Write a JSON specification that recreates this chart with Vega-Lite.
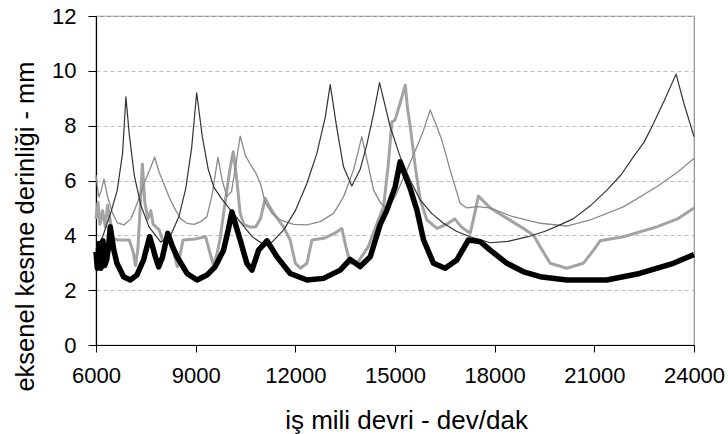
{
  "$schema": "https://vega.github.io/schema/vega-lite/v6.json",
  "width": 598,
  "height": 329,
  "autosize": {"type": "none"},
  "padding": {"left": 96, "top": 16, "right": 34, "bottom": 89},
  "background": "white",
  "config": {
    "font": "Liberation Sans",
    "view": {"stroke": "#8c8c8c", "strokeWidth": 1.2}
  },
  "datasets": {
    "A": [
      {"x": 6000, "y": 3.5}, {"x": 6200, "y": 3.95}, {"x": 6440, "y": 4.8}, {"x": 6640, "y": 5.65}, {"x": 6800, "y": 7.0}, {"x": 6900, "y": 9.05},
      {"x": 7000, "y": 7.7}, {"x": 7150, "y": 6.2}, {"x": 7350, "y": 5.1}, {"x": 7600, "y": 4.3}, {"x": 7950, "y": 3.75}, {"x": 8250, "y": 4.0},
      {"x": 8500, "y": 4.7}, {"x": 8700, "y": 5.7}, {"x": 8880, "y": 7.2}, {"x": 9030, "y": 9.2}, {"x": 9200, "y": 7.6}, {"x": 9380, "y": 6.4},
      {"x": 9550, "y": 5.75}, {"x": 9800, "y": 5.3}, {"x": 10100, "y": 4.85}, {"x": 10400, "y": 4.4}, {"x": 10700, "y": 3.95}, {"x": 11000, "y": 3.7},
      {"x": 11300, "y": 3.75}, {"x": 11650, "y": 4.2}, {"x": 12000, "y": 4.9}, {"x": 12350, "y": 5.9}, {"x": 12650, "y": 7.0}, {"x": 12900, "y": 8.3},
      {"x": 13050, "y": 9.5}, {"x": 13250, "y": 7.9}, {"x": 13450, "y": 6.5}, {"x": 13700, "y": 5.8}, {"x": 13950, "y": 6.4}, {"x": 14150, "y": 7.3},
      {"x": 14350, "y": 8.4}, {"x": 14535, "y": 9.57}, {"x": 14855, "y": 7.96}, {"x": 15155, "y": 6.87}, {"x": 15460, "y": 6.0}, {"x": 15760, "y": 5.29},
      {"x": 16100, "y": 4.8}, {"x": 16460, "y": 4.44}, {"x": 16850, "y": 4.15}, {"x": 17265, "y": 3.95}, {"x": 17865, "y": 3.73}, {"x": 18400, "y": 3.78},
      {"x": 19000, "y": 3.95}, {"x": 19520, "y": 4.15}, {"x": 20000, "y": 4.4}, {"x": 20360, "y": 4.6}, {"x": 20900, "y": 5.1}, {"x": 21380, "y": 5.65},
      {"x": 21800, "y": 6.2}, {"x": 22180, "y": 6.87}, {"x": 22500, "y": 7.4}, {"x": 22780, "y": 8.08}, {"x": 23100, "y": 8.9}, {"x": 23460, "y": 9.88},
      {"x": 23700, "y": 8.8}, {"x": 24000, "y": 7.6}
    ],
    "B": [
      {"x": 6000, "y": 6.2}, {"x": 6080, "y": 5.4}, {"x": 6150, "y": 5.6}, {"x": 6240, "y": 6.05}, {"x": 6350, "y": 5.4}, {"x": 6500, "y": 4.8},
      {"x": 6650, "y": 4.45}, {"x": 6840, "y": 4.38}, {"x": 7050, "y": 4.6}, {"x": 7250, "y": 5.2}, {"x": 7450, "y": 5.9}, {"x": 7620, "y": 6.4},
      {"x": 7765, "y": 6.85}, {"x": 7900, "y": 6.3}, {"x": 8035, "y": 5.9}, {"x": 8200, "y": 5.4}, {"x": 8340, "y": 5.04}, {"x": 8550, "y": 4.6},
      {"x": 8740, "y": 4.44}, {"x": 8950, "y": 4.4}, {"x": 9150, "y": 4.5}, {"x": 9340, "y": 4.68}, {"x": 9500, "y": 5.5}, {"x": 9670, "y": 6.85},
      {"x": 9800, "y": 6.0}, {"x": 9940, "y": 5.41}, {"x": 10080, "y": 5.6}, {"x": 10200, "y": 6.5}, {"x": 10340, "y": 7.62}, {"x": 10500, "y": 6.9},
      {"x": 10640, "y": 6.6}, {"x": 10800, "y": 6.3}, {"x": 10945, "y": 5.9}, {"x": 11100, "y": 5.17}, {"x": 11300, "y": 4.8}, {"x": 11545, "y": 4.56},
      {"x": 11950, "y": 4.4}, {"x": 12350, "y": 4.38}, {"x": 12750, "y": 4.5}, {"x": 13150, "y": 4.8}, {"x": 13450, "y": 5.4}, {"x": 13750, "y": 6.38},
      {"x": 13900, "y": 7.1}, {"x": 14000, "y": 7.6}, {"x": 14150, "y": 6.8}, {"x": 14355, "y": 5.65}, {"x": 14555, "y": 5.2}, {"x": 14755, "y": 4.95},
      {"x": 15000, "y": 5.4}, {"x": 15360, "y": 6.38}, {"x": 15650, "y": 7.2}, {"x": 15850, "y": 7.8}, {"x": 16060, "y": 8.57}, {"x": 16250, "y": 8.0},
      {"x": 16410, "y": 7.48}, {"x": 16660, "y": 6.38}, {"x": 16960, "y": 5.17}, {"x": 17160, "y": 5.0}, {"x": 17460, "y": 5.05}, {"x": 17865, "y": 5.0},
      {"x": 18500, "y": 4.7}, {"x": 19370, "y": 4.44}, {"x": 20170, "y": 4.34}, {"x": 20875, "y": 4.56}, {"x": 21875, "y": 5.04}, {"x": 22880, "y": 5.77},
      {"x": 23500, "y": 6.3}, {"x": 24000, "y": 6.8}
    ],
    "C": [
      {"x": 6000, "y": 4.6}, {"x": 6060, "y": 5.2}, {"x": 6120, "y": 4.4}, {"x": 6200, "y": 4.9}, {"x": 6280, "y": 4.3}, {"x": 6350, "y": 5.1},
      {"x": 6420, "y": 4.6}, {"x": 6500, "y": 3.9}, {"x": 6650, "y": 3.83}, {"x": 7000, "y": 3.83}, {"x": 7120, "y": 3.4}, {"x": 7190, "y": 2.9},
      {"x": 7260, "y": 3.5}, {"x": 7330, "y": 5.0}, {"x": 7395, "y": 6.6}, {"x": 7470, "y": 5.2}, {"x": 7560, "y": 4.6}, {"x": 7650, "y": 4.9},
      {"x": 7720, "y": 4.4}, {"x": 7900, "y": 4.2}, {"x": 8000, "y": 3.85}, {"x": 8250, "y": 3.85}, {"x": 8350, "y": 3.3}, {"x": 8450, "y": 2.86},
      {"x": 8550, "y": 3.4}, {"x": 8620, "y": 3.83}, {"x": 9000, "y": 3.87}, {"x": 9300, "y": 3.95}, {"x": 9420, "y": 3.4}, {"x": 9540, "y": 2.9},
      {"x": 9640, "y": 3.3}, {"x": 9740, "y": 3.9}, {"x": 9840, "y": 4.8}, {"x": 9940, "y": 5.65}, {"x": 10030, "y": 6.4}, {"x": 10090, "y": 6.8},
      {"x": 10130, "y": 7.05}, {"x": 10180, "y": 6.6}, {"x": 10240, "y": 6.0}, {"x": 10340, "y": 4.8}, {"x": 10450, "y": 4.4}, {"x": 10640, "y": 4.3},
      {"x": 10800, "y": 4.3}, {"x": 10950, "y": 4.6}, {"x": 11095, "y": 5.35}, {"x": 11200, "y": 5.1}, {"x": 11345, "y": 4.8}, {"x": 11645, "y": 4.31},
      {"x": 11845, "y": 3.83}, {"x": 12000, "y": 2.98}, {"x": 12150, "y": 2.8}, {"x": 12350, "y": 2.98}, {"x": 12500, "y": 3.83}, {"x": 12850, "y": 3.89},
      {"x": 13150, "y": 4.05}, {"x": 13400, "y": 4.25}, {"x": 13520, "y": 3.6}, {"x": 13650, "y": 2.98}, {"x": 13900, "y": 3.05}, {"x": 14200, "y": 3.6},
      {"x": 14450, "y": 4.4}, {"x": 14655, "y": 5.04}, {"x": 14800, "y": 6.6}, {"x": 14905, "y": 8.14}, {"x": 15000, "y": 8.2}, {"x": 15150, "y": 8.8},
      {"x": 15310, "y": 9.48}, {"x": 15380, "y": 8.6}, {"x": 15460, "y": 7.96}, {"x": 15610, "y": 6.5}, {"x": 15760, "y": 5.29}, {"x": 15960, "y": 4.56},
      {"x": 16260, "y": 4.25}, {"x": 16550, "y": 4.4}, {"x": 16800, "y": 4.6}, {"x": 17000, "y": 4.3}, {"x": 17265, "y": 4.08}, {"x": 17400, "y": 4.8},
      {"x": 17510, "y": 5.43}, {"x": 17865, "y": 5.0}, {"x": 18400, "y": 4.6}, {"x": 18800, "y": 4.3}, {"x": 19170, "y": 4.0}, {"x": 19370, "y": 3.58},
      {"x": 19670, "y": 2.98}, {"x": 20170, "y": 2.8}, {"x": 20670, "y": 2.98}, {"x": 21000, "y": 3.5}, {"x": 21175, "y": 3.8}, {"x": 21875, "y": 3.95},
      {"x": 22880, "y": 4.31}, {"x": 23500, "y": 4.6}, {"x": 24000, "y": 5.0}
    ],
    "D": [
      {"x": 6000, "y": 3.4}, {"x": 6040, "y": 2.8}, {"x": 6090, "y": 3.7}, {"x": 6150, "y": 2.8}, {"x": 6210, "y": 3.8}, {"x": 6260, "y": 2.9},
      {"x": 6320, "y": 3.1}, {"x": 6380, "y": 3.6}, {"x": 6430, "y": 4.31}, {"x": 6530, "y": 3.5}, {"x": 6630, "y": 2.98}, {"x": 6830, "y": 2.49},
      {"x": 7030, "y": 2.37}, {"x": 7230, "y": 2.55}, {"x": 7430, "y": 3.1}, {"x": 7615, "y": 3.95}, {"x": 7700, "y": 3.6}, {"x": 7785, "y": 3.22},
      {"x": 7885, "y": 2.85}, {"x": 8000, "y": 3.2}, {"x": 8160, "y": 4.07}, {"x": 8300, "y": 3.6}, {"x": 8440, "y": 3.22}, {"x": 8740, "y": 2.61},
      {"x": 9040, "y": 2.37}, {"x": 9340, "y": 2.55}, {"x": 9590, "y": 2.86}, {"x": 9840, "y": 3.46}, {"x": 9980, "y": 4.2}, {"x": 10090, "y": 4.85},
      {"x": 10200, "y": 4.4}, {"x": 10340, "y": 3.83}, {"x": 10540, "y": 2.98}, {"x": 10695, "y": 2.73}, {"x": 10895, "y": 3.46}, {"x": 11145, "y": 3.8},
      {"x": 11445, "y": 3.22}, {"x": 11845, "y": 2.61}, {"x": 12350, "y": 2.37}, {"x": 12850, "y": 2.43}, {"x": 13350, "y": 2.73}, {"x": 13650, "y": 3.12},
      {"x": 13950, "y": 2.86}, {"x": 14255, "y": 3.22}, {"x": 14555, "y": 4.4}, {"x": 14755, "y": 4.92}, {"x": 15005, "y": 5.77}, {"x": 15155, "y": 6.68},
      {"x": 15300, "y": 6.2}, {"x": 15460, "y": 5.7}, {"x": 15660, "y": 4.92}, {"x": 15860, "y": 3.83}, {"x": 16160, "y": 2.98}, {"x": 16510, "y": 2.8},
      {"x": 16860, "y": 3.1}, {"x": 17210, "y": 3.83}, {"x": 17565, "y": 3.77}, {"x": 17865, "y": 3.46}, {"x": 18370, "y": 2.98}, {"x": 18870, "y": 2.67},
      {"x": 19370, "y": 2.49}, {"x": 20170, "y": 2.37}, {"x": 21375, "y": 2.37}, {"x": 22360, "y": 2.61}, {"x": 23380, "y": 2.98}, {"x": 24000, "y": 3.3}
    ]
  },
  "encoding": {
    "x": {
      "field": "x", "type": "quantitative",
      "scale": {"domain": [6000, 24000], "nice": false, "zero": false},
      "axis": {
        "values": [6000, 9000, 12000, 15000, 18000, 21000, 24000],
        "format": "d", "grid": false, "labelFlush": false, "labelOverlap": false, "labelBound": false,
        "labelFontSize": 22, "labelColor": "#000", "labelPadding": 13,
        "tickColor": "#000", "tickSize": 7, "domainColor": "#000", "domainWidth": 1.2,
        "title": "iş mili devri - dev/dak", "titleFontSize": 26, "titleFontWeight": "normal",
        "titleColor": "#000", "titleX": 310, "titleY": 83, "titleBaseline": "alphabetic"
      }
    },
    "y": {
      "field": "y", "type": "quantitative",
      "scale": {"domain": [0, 12], "nice": false},
      "axis": {
        "values": [0, 2, 4, 6, 8, 10, 12],
        "grid": true, "gridColor": "#bdbdbd", "gridDash": [4, 3], "gridWidth": 1,
        "labelFlush": false, "labelOverlap": false, "labelBound": false,
        "labelFontSize": 22, "labelColor": "#000", "labelPadding": 12,
        "tickColor": "#000", "tickSize": 8, "domainColor": "#000", "domainWidth": 1.2,
        "title": "eksenel kesme derinliği - mm", "titleFontSize": 25.5, "titleFontWeight": "normal",
        "titleColor": "#000", "titleX": -63, "titleY": 210, "titleBaseline": "alphabetic", "titleAngle": 270
      }
    }
  },
  "layer": [
    {"data": {"name": "C"}, "mark": {"type": "line", "color": "#a3a3a3", "strokeWidth": 3, "strokeJoin": "round"}},
    {"data": {"name": "B"}, "mark": {"type": "line", "color": "#8a8a8a", "strokeWidth": 1.3, "strokeJoin": "round"}},
    {"data": {"name": "A"}, "mark": {"type": "line", "color": "#333333", "strokeWidth": 1.2, "strokeJoin": "round"}},
    {"data": {"name": "D"}, "mark": {"type": "line", "color": "#000000", "strokeWidth": 5.5, "strokeJoin": "round"}}
  ]
}
